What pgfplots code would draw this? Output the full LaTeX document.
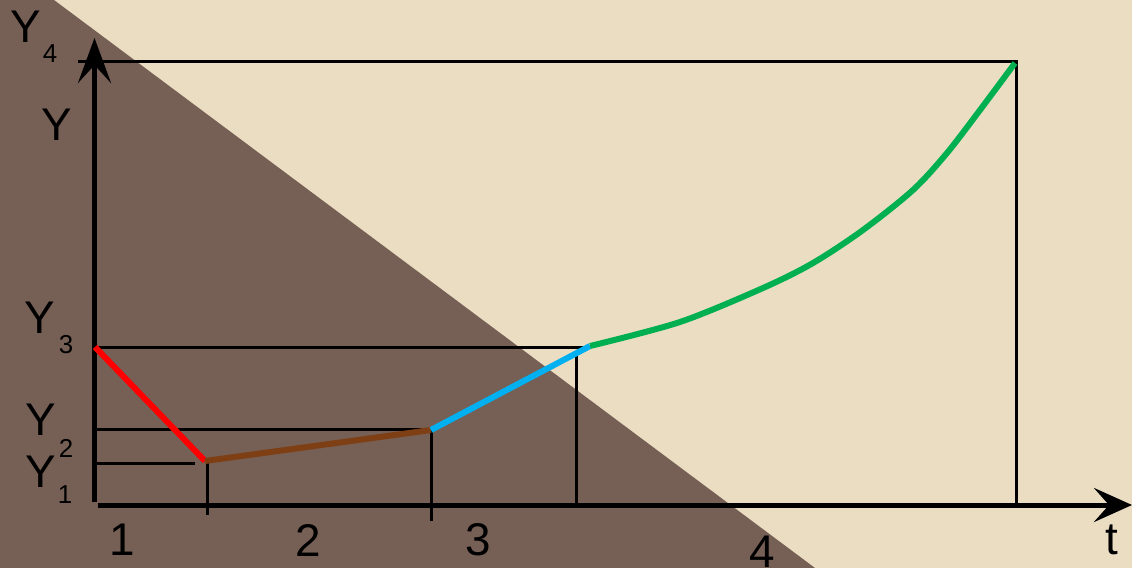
\documentclass[border=0pt]{standalone}
\usepackage{pgfplots}
\pgfplotsset{compat=1.18}
\usepackage{fontspec}
\setmainfont{Liberation Sans}
\usetikzlibrary{arrows.meta}
\definecolor{bgbeige}{HTML}{EADDC2}
\definecolor{bgbrown}{HTML}{765F55}
\definecolor{lred}{HTML}{FF0000}
\definecolor{lbrown}{HTML}{7E3F14}
\definecolor{lblue}{HTML}{00B0F0}
\definecolor{lgreen}{HTML}{00B050}
\newcommand{\lbl}{\fontsize{46}{50}\selectfont}
\newcommand{\sbl}{\fontsize{26}{29}\selectfont}
\begin{document}
\begin{tikzpicture}
\begin{axis}[
  scale only axis, width=1132bp, height=568bp,
  xmin=0, xmax=1132, ymin=0, ymax=568, y dir=reverse,
  axis lines=none, clip=true,
  every axis plot/.append style={no marks},
]
% background
\addplot[fill=bgbeige,draw=none] coordinates {(0,0) (1132,0) (1132,568) (0,568)};
\addplot[fill=bgbrown,draw=none] coordinates {(0,0) (54,0) (815,568) (0,568)};
% guide lines
\addplot[black,line width=3bp] coordinates {(78,62) (1016,62) (1016,505)};
\addplot[black,line width=3bp] coordinates {(95,347) (590,347)};
\addplot[black,line width=3bp] coordinates {(576,355) (576,505)};
\addplot[black,line width=3bp] coordinates {(95,429.5) (431,429.5)};
\addplot[black,line width=3bp] coordinates {(431,430) (431,521)};
\addplot[black,line width=3bp] coordinates {(95,463) (195,463)};
\addplot[black,line width=3bp] coordinates {(207,463) (207,515)};
% axes
\addplot[black,line width=5bp,-{Stealth[length=45bp,width=33bp,inset=18bp]}] coordinates {(94.5,502) (94.5,38)};
\addplot[black,line width=5bp,-{Stealth[length=38bp,width=34bp,inset=15bp]}] coordinates {(98,505) (1132,505)};
% phases
\addplot[lred,line width=6bp] coordinates {(95,347) (205,461)};
\addplot[lbrown,line width=6bp] coordinates {(205,461) (431,430)};
\addplot[lblue,line width=6bp] coordinates {(431,430) (590,346)};
\addplot[lgreen,line width=6bp,smooth,tension=0.5] coordinates {
  (590,346) (680,322) (763,288) (813,263) (863,230) (913,190) (947,153) (980,110) (1015,63)};
% labels
\node[inner sep=0] at (axis cs:26,27) {\lbl Y};
\node[inner sep=0] at (axis cs:50,54) {\sbl 4};
\node[inner sep=0] at (axis cs:57,125) {\lbl Y};
\node[inner sep=0] at (axis cs:40,318) {\lbl Y};
\node[inner sep=0] at (axis cs:66,345) {\sbl 3};
\node[inner sep=0] at (axis cs:41,420) {\lbl Y};
\node[inner sep=0] at (axis cs:66,448) {\sbl 2};
\node[inner sep=0] at (axis cs:41,472) {\lbl Y};
\node[inner sep=0] at (axis cs:65,495) {\sbl 1};
\node[inner sep=0] at (axis cs:122,540) {\lbl 1};
\node[inner sep=0] at (axis cs:308,540) {\lbl 2};
\node[inner sep=0] at (axis cs:478,540) {\lbl 3};
\node[inner sep=0] at (axis cs:762,552) {\lbl 4};
\node[inner sep=0] at (axis cs:1112,540) {\lbl t};
\end{axis}
\pgfresetboundingbox
\path (current axis.south west) rectangle (current axis.north east);
\end{tikzpicture}
\end{document}
